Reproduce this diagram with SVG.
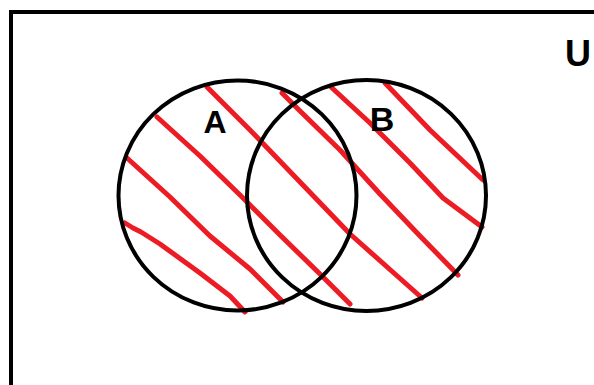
<svg xmlns="http://www.w3.org/2000/svg" width="594" height="385" viewBox="0 0 594 385">
<style>
.frame{fill:none;stroke:#000;stroke-width:4}
.set{fill:none;stroke:#000;stroke-width:4}
.hatch{fill:none;stroke:#ED1C24;stroke-width:5;stroke-linecap:round;stroke-linejoin:round}
.lbl{font-family:"Liberation Sans",Arial,sans-serif;font-weight:bold;fill:#000;text-anchor:middle}
</style>
<rect width="594" height="385" fill="#fff"/>
<rect class="frame" x="11" y="12" width="620" height="420"/>
<g id="hatching">
<polyline class="hatch" points="125,223 133,228 141,232 160,244 200,273 230,296 245,312"/>
<polyline class="hatch" points="127,158 170,197 210,236 250,269 283,302"/>
<polyline class="hatch" points="157,117 200,156 240,195 280,235 320,274 350,304"/>
<polyline class="hatch" points="207,87 250,130 300,182 350,234 395,274 422,298"/>
<polyline class="hatch" points="282,93 300,111 340,150 380,194 420,236 458,275"/>
<polyline class="hatch" points="331,87 370,123 410,163 443,198 482,227"/>
<polyline class="hatch" points="385,83 430,130 483,180"/>
</g>
<g id="setA">
<ellipse class="set" cx="237.5" cy="195.5" rx="119" ry="115"/>
<text class="lbl" x="215" y="133" font-size="32">A</text>
</g>
<g id="setB">
<ellipse class="set" cx="366.5" cy="195.5" rx="119.5" ry="115.5"/>
<text class="lbl" x="382" y="131" font-size="34">B</text>
</g>
<g id="universe">
<text class="lbl" x="578" y="66" font-size="36">U</text>
</g>
</svg>
